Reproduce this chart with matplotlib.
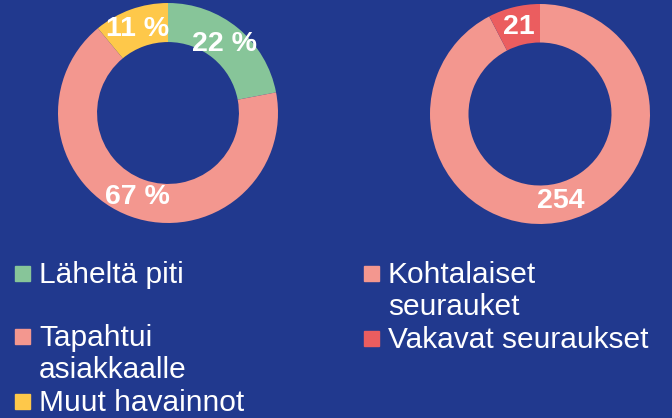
import matplotlib.pyplot as plt

#%% DATA

left_labels = ["Läheltä piti", "Tapahtui\nasiakkaalle", "Muut havainnot"]
left_values = [22, 67, 11]
left_colors = ["#87C599", "#F3978F", "#FEC84A"]

right_labels = ["Kohtalaiset\nseurauket", "Vakavat seuraukset"]
right_values = [254, 21]
right_colors = ["#F3978F", "#EB5D5F"]

BG = "#21398E"
W, H = 672, 418

plt.rcParams["font.family"] = ["Liberation Sans", "DejaVu Sans"]

fig = plt.figure(figsize=(W/100, H/100), dpi=100, facecolor=BG)

def px_axes(cx, cy, r):
    # axes box from pixel centre/radius (y measured from top)
    return fig.add_axes([(cx-r)/W, (H-cy-r)/H, 2*r/W, 2*r/H])

#%% DONUTS

ax1 = px_axes(168, 113, 110)
ax1.pie(left_values, colors=left_colors, startangle=90, counterclock=False,
        wedgeprops=dict(width=0.355, linewidth=0),
        autopct=lambda p: f"{p:.0f} %", pctdistance=0.81,
        textprops=dict(color="white", fontsize=20.5, fontweight="bold"))
ax1.set_xlim(-1, 1); ax1.set_ylim(-1, 1)

total = sum(right_values)
ax2 = px_axes(540, 114, 110)
ax2.pie(right_values, colors=right_colors, startangle=90, counterclock=False,
        wedgeprops=dict(width=0.35, linewidth=0),
        autopct=lambda p: f"{p*total/100:.0f}", pctdistance=0.81,
        textprops=dict(color="white", fontsize=20.5, fontweight="bold"))
ax2.set_xlim(-1, 1); ax2.set_ylim(-1, 1)

#%% LEGEND (placed by hand, like the original slide)

LINE = 32  # px between wrapped lines

def legend_item(x, y, label, color):
    # square marker + text lines, y is baseline of first line in px from top
    fig.patches.append(plt.Rectangle((x/W, (H-y+2)/H), 15/W, 15/H,
                                     transform=fig.transFigure, color=color))
    for i, line in enumerate(label.split("\n")):
        fig.text((x+24)/W, (H-y-i*LINE)/H, line, color="white", fontsize=21.5,
                 va="baseline", ha="left")

left_pos = [(15, 283), (15, 346), (15, 411)]
for (x, y), lab, col in zip(left_pos, left_labels, left_colors):
    legend_item(x, y, lab, col)

right_pos = [(364, 283), (364, 348)]
for (x, y), lab, col in zip(right_pos, right_labels, right_colors):
    legend_item(x, y, lab, col)

fig.savefig("out.png", dpi=100, facecolor=BG)
